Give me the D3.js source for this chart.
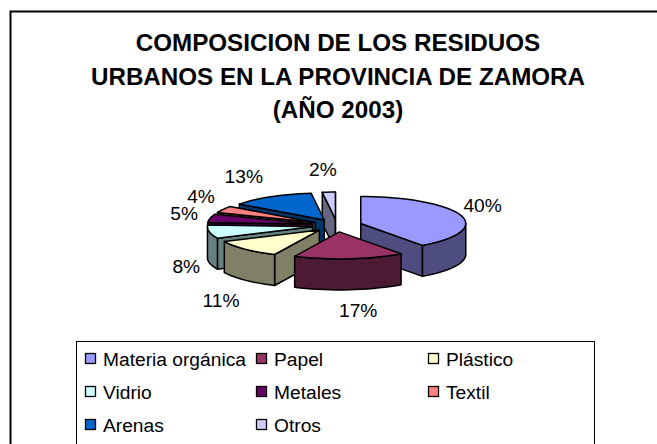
<!DOCTYPE html>
<html>
<head>
<meta charset="utf-8">
<script src="https://cdn.jsdelivr.net/npm/d3@7"></script>
<style>
  html, body { margin: 0; padding: 0; background: #fff; overflow: hidden; }
  svg { display: block; font-family: "Liberation Sans", Arial, sans-serif; }
</style>
</head>
<body>
<svg id="chart" width="657" height="444"></svg>
<script>
const titleLines = ["COMPOSICION DE LOS RESIDUOS", "URBANOS EN LA PROVINCIA DE ZAMORA", "(AÑO 2003)"];
const categories = ["Materia orgánica", "Papel", "Plástico", "Vidrio", "Metales", "Textil", "Arenas", "Otros"];
const values = [40, 17, 11, 8, 5, 4, 13, 2];
const topColors = ["#9999ff", "#993366", "#ffffcc", "#ccffff", "#660066", "#ff8080", "#0066cc", "#ccccff"];
const sideColors = ["#4d4d80", "#4c1a33", "#808066", "#668080", "#330033", "#804040", "#003366", "#666680"];

// label nudges from the outer edge of each slice, placed by hand
const labelNudge = [[22, -9], [9, 52], [-24, 52], [-23, 35], [-26, -4], [-22, -12], [-27, -20], [-6, -22]];

const svg = d3.select("#chart");
const cx = 337, cy = 225.5, rx = 105, ry = 27, depth = 31, explode = 25;

// frame runs off the right and bottom of the window
svg.append("rect")
  .attr("x", 10.5).attr("y", 11.5).attr("width", 700).attr("height", 500)
  .attr("fill", "#fff").attr("stroke", "#000").attr("stroke-width", 2);

const title = svg.append("g").attr("font-weight", "bold").attr("font-size", 24.2).attr("text-anchor", "middle");
const titleY = d3.scalePoint().domain(titleLines).range([51, 118]);
title.selectAll("text").data(titleLines).join("text")
  .attr("x", 338)
  .attr("y", d => titleY(d))
  .text(d => d);

const arcs = d3.pie().sort(null).value(d => d)(values);
const line = d3.line();

// project pie angle (clockwise from 12 o'clock) to the tilted ellipse
function pt(o, a, z) {
  return [o[0] + rx * Math.sin(a), o[1] - ry * Math.cos(a) + (z || 0)];
}
function arcPts(o, a0, a1, z) {
  const n = Math.max(2, Math.ceil((a1 - a0) / 0.06));
  return d3.range(n + 1).map(i => pt(o, a0 + (a1 - a0) * i / n, z));
}

arcs.forEach(d => {
  d.mid = (d.startAngle + d.endAngle) / 2;
  d.origin = [cx + explode * Math.sin(d.mid), cy - explode * (ry / rx) * Math.cos(d.mid)];
});

const order = arcs.slice().sort((a, b) => Math.cos(b.mid) - Math.cos(a.mid));
const pie = svg.append("g").attr("stroke", "#000").attr("stroke-width", 1.5).attr("stroke-linejoin", "round");

order.forEach(d => {
  const o = d.origin, a0 = d.startAngle, a1 = d.endAngle;
  const g = pie.append("g");
  const side = sideColors[d.index];

  // cut faces
  const wall = a => {
    const e = pt(o, a);
    g.append("path").attr("fill", side)
      .attr("d", line([o, e, [e[0], e[1] + depth], [o[0], o[1] + depth]]) + "Z");
  };
  if (Math.sin(a0) < 0) wall(a0);
  if (Math.sin(a1) > 0) wall(a1);

  // outer wall, only the part facing the viewer
  const w0 = Math.max(a0, Math.PI / 2), w1 = Math.min(a1, Math.PI * 1.5);
  if (w1 > w0) {
    const upper = arcPts(o, w0, w1, 0);
    const lower = arcPts(o, w0, w1, depth).reverse();
    g.append("path").attr("fill", side).attr("d", line(upper.concat(lower)) + "Z");
  }

  g.append("path").attr("fill", topColors[d.index])
    .attr("d", line([o].concat(arcPts(o, a0, a1, 0))) + "Z");
});

const labels = svg.append("g").attr("font-size", 19.2).attr("text-anchor", "middle").attr("fill", "#000");
arcs.forEach(d => {
  const e = pt(d.origin, d.mid);
  const n = labelNudge[d.index];
  labels.append("text")
    .attr("x", e[0] + n[0])
    .attr("y", e[1] + n[1] + 6)
    .text(d.value + "%");
});

// legend, also cut by the bottom edge
const legendX = d3.scaleOrdinal().domain([0, 1, 2]).range([85, 256, 428]);
const legendY = d3.scaleOrdinal().domain([0, 1, 2]).range([359, 392, 425]);
svg.append("rect")
  .attr("x", 76.5).attr("y", 341.5).attr("width", 518).attr("height", 140)
  .attr("fill", "#fff").attr("stroke", "#000");

const items = svg.append("g").selectAll("g").data(categories).join("g")
  .attr("transform", (d, i) => `translate(${legendX(i % 3)},${legendY(Math.floor(i / 3))})`);
items.append("rect")
  .attr("x", 0.5).attr("y", -5.5).attr("width", 10).attr("height", 10)
  .attr("fill", (d, i) => topColors[i]).attr("stroke", "#000").attr("stroke-width", 1.3);
items.append("text")
  .attr("x", 18).attr("y", 6.5).attr("font-size", 19.2)
  .text(d => d);
</script>
</body>
</html>
